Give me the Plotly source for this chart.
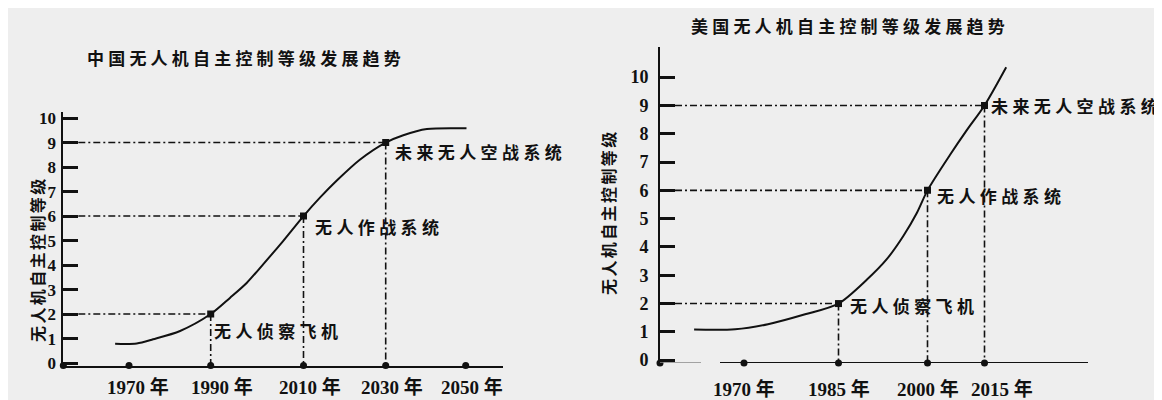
import numpy as np
import plotly.graph_objects as go

# ---------------- data ----------------
CN_TITLE = "中国无人机自主控制等级发展趋势"
US_TITLE = "美国无人机自主控制等级发展趋势"
Y_TITLE = "无人机自主控制等级"

CN_TICK_YEARS = [1970, 1990, 2010, 2030, 2050]
US_TICK_YEARS = [1970, 1985, 2000, 2015]
LEVEL_TICKS = [0, 1, 2, 3, 4, 5, 6, 7, 8, 9, 10]

cn_curve_years = [1966.6, 1971.9, 1975.9, 1982.5, 1990, 1994.2, 1997.8, 2001.3,
                  2005.6, 2010, 2014.0, 2018.1, 2023.7, 2030, 2034.4, 2040.3, 2050.2]
cn_curve_level = [0.79, 0.80, 0.97, 1.31, 2.0, 2.67, 3.28, 4.03,
                  4.98, 6.0, 6.75, 7.45, 8.3, 9.0, 9.3, 9.55, 9.58]

us_curve_years = [1962.1, 1968.6, 1973.8, 1979.7, 1985, 1989.8, 1993.1, 1995.9,
                  1998.2, 2000, 2005.9, 2010.3, 2015, 2020.7]
us_curve_level = [1.08, 1.09, 1.27, 1.62, 2.0, 2.85, 3.56, 4.38,
                  5.2, 6.0, 7.25, 8.12, 9.0, 10.35]

cn_milestone_years = [1990, 2010, 2030]
cn_milestone_level = [2, 6, 9]
us_milestone_years = [1985, 2000, 2015]
us_milestone_level = [2, 6, 9]
milestone_labels = ["无人侦察飞机", "无人作战系统", "未来无人空战系统"]

# ---------------- layout constants ----------------
OFF = 8                       # the page body margin of the browser
W, H = 1162 - OFF, 400 - OFF  # figure size so that it fills the window
# the reference year axes are not evenly spaced: piecewise year -> axis position
CN_AXIS_YEARS = [1953.9, 1970, 1990, 2010, 2030, 2050, 2059.3]
CN_AXIS_POS = [0, 65.7, 147.4, 240.2, 322.4, 402.4, 439.7]
US_AXIS_YEARS = [1956.7, 1970, 1985, 2000, 2015, 2042.2]
US_AXIS_POS = [0, 84, 178.5, 267.5, 324.5, 428]
CN_YEAR_LABEL_SHIFT = [9, 11, 6, 6, 6]
US_YEAR_LABEL_SHIFT = [0, 0, 0, 17]


def cn_x(years):
    return np.interp(years, CN_AXIS_YEARS, CN_AXIS_POS)


def us_x(years):
    return np.interp(years, US_AXIS_YEARS, US_AXIS_POS)


def px(p):
    return (p - OFF) / W


def py(p):
    return 1 - (p - OFF) / H


# panel geometry (window pixels)
CN_G = dict(x0=63.3, ybot=365.5, ytop=111.7, unit=24.5, label_dy=-21, ytick=17, ystand=2)
US_G = dict(x0=660.0, ybot=363.0, ytop=46.7, unit=28.3, label_dy=-26, ytick=18, ystand=6)
YMIN = -0.1


def yrange(g):
    return [YMIN, YMIN + (g["ybot"] - g["ytop"]) / g["unit"]]


INK = "#111111"
NUM_FONT = "Liberation Serif, Noto Sans CJK SC"
CJK_FONT = "Noto Sans CJK SC"

fig = go.Figure()


def add_panel(xa, ya, g, curve_x, curve_y, ms_x, ms_y, tick_x, tick_years,
              year_shifts, label_shifts):
    for mx, my in zip(ms_x, ms_y):
        fig.add_trace(go.Scatter(x=[0, mx], y=[my, my], mode="lines",
                                 line=dict(color=INK, width=1.6, dash="7px,3px,2px,3px"),
                                 xaxis=xa, yaxis=ya, hoverinfo="skip", showlegend=False))
        fig.add_trace(go.Scatter(x=[mx, mx], y=[my, YMIN], mode="lines",
                                 line=dict(color=INK, width=1.6, dash="7px,3px,2px,3px"),
                                 xaxis=xa, yaxis=ya, hoverinfo="skip", showlegend=False))
    fig.add_trace(go.Scatter(x=curve_x, y=curve_y, mode="lines",
                             line=dict(color=INK, width=2, shape="spline", smoothing=0.8),
                             xaxis=xa, yaxis=ya, hoverinfo="skip", showlegend=False))
    fig.add_trace(go.Scatter(x=ms_x, y=ms_y, mode="markers",
                             marker=dict(color=INK, size=7, symbol="square"),
                             xaxis=xa, yaxis=ya, hoverinfo="skip", showlegend=False))
    fig.add_trace(go.Scatter(x=[0] + list(tick_x), y=[YMIN] * (len(tick_x) + 1), mode="markers",
                             marker=dict(color=INK, size=7),
                             xaxis=xa, yaxis=ya, cliponaxis=False,
                             hoverinfo="skip", showlegend=False))
    for mx, my, lab, (dx, dy) in zip(ms_x, ms_y, milestone_labels, label_shifts):
        fig.add_annotation(x=mx, y=my, xref=xa, yref=ya, showarrow=False,
                           text=f'<span style="letter-spacing:4.4px">{lab}</span>',
                           xanchor="left", yanchor="middle", xshift=dx, yshift=dy,
                           font=dict(family=CJK_FONT, size=17, color=INK, weight="bold"))
    # year labels under the axis
    for tx, yr, sx in zip(tick_x, tick_years, year_shifts):
        fig.add_annotation(x=tx, y=0, xref=xa, yref=f"{ya} domain", showarrow=False,
                           text=f"{yr} 年", xanchor="center", yanchor="middle",
                           xshift=sx, yshift=g["label_dy"],
                           font=dict(family=NUM_FONT, size=19, color=INK, weight="bold"))


cn_tick_x = cn_x(CN_TICK_YEARS)
us_tick_x = us_x(US_TICK_YEARS)

add_panel("x", "y", CN_G, cn_x(cn_curve_years), cn_curve_level,
          cn_x(cn_milestone_years), cn_milestone_level, cn_tick_x, CN_TICK_YEARS,
          CN_YEAR_LABEL_SHIFT, [(1, -16), (9, -10), (7, -9)])
add_panel("x2", "y2", US_G, us_x(us_curve_years), us_curve_level,
          us_x(us_milestone_years), us_milestone_level, us_tick_x, US_TICK_YEARS,
          US_YEAR_LABEL_SHIFT, [(9, -2), (7, -5), (4, 0)])


def xaxis_cfg(g, xmax, showline):
    return dict(domain=[px(g["x0"]), px(g["x0"] + xmax)], range=[0, xmax],
                showline=showline, linecolor=INK, linewidth=2, automargin=False,
                showgrid=False, zeroline=False, ticks="", showticklabels=False,
                fixedrange=True)


def yaxis_cfg(g, anchor):
    return dict(domain=[py(g["ybot"]), py(g["ytop"])], range=yrange(g),
                anchor=anchor, showline=True, linecolor=INK, linewidth=2, automargin=False,
                showgrid=False, zeroline=False, ticks="inside", ticklen=15,
                tickwidth=2.5, tickcolor=INK, tickvals=LEVEL_TICKS,
                ticktext=[str(v) for v in LEVEL_TICKS],
                tickfont=dict(family=NUM_FONT, size=g["ytick"], color=INK, weight="bold"),
                ticklabelstandoff=g["ystand"], fixedrange=True)


cn_xmax = CN_AXIS_POS[-1]
us_xmax = US_AXIS_POS[-1]

fig.update_layout(
    width=W, height=H, margin=dict(l=0, r=0, t=0, b=0, pad=0, autoexpand=False),
    paper_bgcolor="#eeeeee", plot_bgcolor="rgba(0,0,0,0)",
    xaxis=dict(xaxis_cfg(CN_G, cn_xmax, True), anchor="y"),
    yaxis=yaxis_cfg(CN_G, "x"),
    xaxis2=dict(xaxis_cfg(US_G, us_xmax, False), anchor="y2"),
    yaxis2=yaxis_cfg(US_G, "x2"),
)

# right panel x-axis line (with the small break seen in the reference)
fig.add_shape(type="line", xref="x2", yref="y2", x0=0, x1=41, y0=YMIN, y1=YMIN,
              line=dict(color="#888888", width=1.5))
fig.add_shape(type="line", xref="x2", yref="y2", x0=60, x1=us_xmax, y0=YMIN, y1=YMIN,
              line=dict(color=INK, width=2))

# titles
title_font = dict(family=CJK_FONT, size=17, color=INK, weight="bold")
fig.add_annotation(x=px(85), y=py(57.5), xref="paper", yref="paper", showarrow=False,
                   xanchor="left", yanchor="middle", font=title_font,
                   text=f'<span style="letter-spacing:4.2px">{CN_TITLE}</span>')
fig.add_annotation(x=px(689), y=py(25.5), xref="paper", yref="paper", showarrow=False,
                   xanchor="left", yanchor="middle", font=title_font,
                   text=f'<span style="letter-spacing:4.2px">{US_TITLE}</span>')
ytitle_font = dict(family=CJK_FONT, size=16, color=INK, weight="bold")
fig.add_annotation(x=px(37), y=py(259), xref="paper", yref="paper", showarrow=False,
                   xanchor="center", yanchor="middle", textangle=-90, font=ytitle_font,
                   text=f'<span style="letter-spacing:2.4px">{Y_TITLE}</span>')
fig.add_annotation(x=px(608), y=py(212), xref="paper", yref="paper", showarrow=False,
                   xanchor="center", yanchor="middle", textangle=-90, font=ytitle_font,
                   text=f'<span style="letter-spacing:2.4px">{Y_TITLE}</span>')

fig.write_html("out.html")
